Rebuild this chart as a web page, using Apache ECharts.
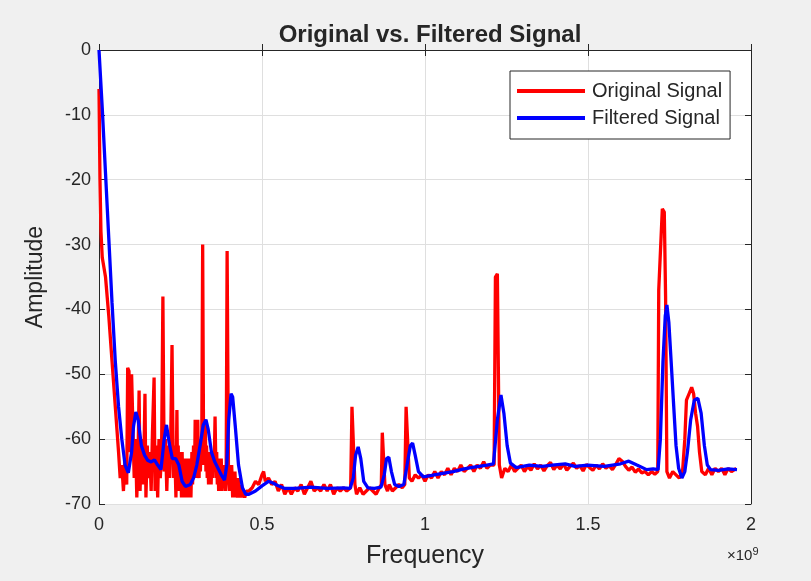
<!DOCTYPE html>
<html><head><meta charset="utf-8">
<script src="https://cdn.jsdelivr.net/npm/echarts@6/dist/echarts.min.js"></script>
<style>html,body{margin:0;padding:0;background:#f0f0f0;}#c{width:811px;height:581px;}</style>
</head><body><div id="c"></div>
<script>
// Frequency in units of 1e9 (axis shows ×10^9); each entry is [frequency, amplitude]
const xTicks = [0, 0.5, 1, 1.5, 2];
const yTicks = [0, -10, -20, -30, -40, -50, -60, -70];
const seriesNames = ['Original Signal', 'Filtered Signal'];

const originalSignal = [
  [0,-6],[0.003,-20],[0.006,-28],[0.01,-32],[0.02,-35],[0.03,-41],[0.04,-48],[0.05,-55],[0.06,-62],[0.065,-66],
  [0.07,-64],[0.075,-68],[0.08,-63],[0.085,-67],[0.088,-49],[0.092,-49.5],[0.096,-62],[0.1,-50],[0.104,-50],[0.108,-66],
  [0.112,-60],[0.116,-69],[0.12,-62],[0.123,-52.5],[0.126,-68],[0.13,-60],[0.134,-67],[0.138,-62],[0.141,-53],[0.144,-69],
  [0.148,-61],[0.152,-66],[0.156,-62],[0.16,-68],[0.164,-59],[0.169,-50.5],[0.172,-68],[0.176,-61],[0.18,-69],[0.184,-60],
  [0.188,-66],[0.192,-62],[0.196,-38],[0.2,-65],[0.204,-60],[0.208,-68],[0.212,-61],[0.216,-66],[0.22,-60],[0.224,-45.5],
  [0.228,-66],[0.232,-61],[0.236,-69],[0.239,-55.5],[0.241,-66],[0.243,-61],[0.245,-68],[0.247,-62],[0.249,-67],[0.251,-63],
  [0.253,-69],[0.255,-62],[0.257,-68],[0.26,-64],[0.262,-69],[0.265,-63],[0.267,-68],[0.27,-64],[0.272,-69],[0.275,-63],
  [0.277,-68],[0.28,-64],[0.282,-69],[0.285,-62],[0.287,-67],[0.29,-61],[0.293,-66],[0.295,-57],[0.297,-65],[0.299,-60],
  [0.301,-66],[0.303,-57],[0.305,-64],[0.307,-66],[0.309,-60],[0.311,-65],[0.313,-60],[0.315,-63],[0.318,-30],[0.321,-64],
  [0.323,-59],[0.326,-57],[0.328,-65],[0.33,-61],[0.332,-66],[0.334,-62],[0.336,-67],[0.338,-63],[0.34,-66],[0.342,-62],
  [0.344,-67],[0.346,-63],[0.348,-66],[0.35,-62],[0.353,-65],[0.356,-56.5],[0.359,-66],[0.361,-62],[0.363,-67],[0.365,-63],
  [0.367,-68],[0.37,-64],[0.372,-67],[0.375,-63],[0.377,-68],[0.38,-64],[0.382,-67],[0.385,-65],[0.388,-68],[0.39,-66],
  [0.393,-31],[0.397,-64],[0.4,-68],[0.402,-65],[0.405,-68],[0.407,-64],[0.41,-69],[0.412,-66],[0.415,-68],[0.417,-65],
  [0.42,-69],[0.422,-67],[0.425,-69],[0.427,-66],[0.43,-69],[0.432,-67],[0.435,-69],[0.437,-67],[0.44,-69],[0.442,-68],
  [0.447,-69],[0.452,-68],[0.46,-68],[0.47,-67.5],[0.48,-66.5],[0.49,-67],[0.5,-65.5],[0.505,-65],[0.51,-66.5],[0.52,-66],
  [0.53,-67],[0.54,-66.5],[0.55,-68],[0.56,-67],[0.57,-68.5],[0.58,-67.5],[0.59,-68.5],[0.6,-67.5],[0.61,-68],[0.62,-67],
  [0.63,-68.5],[0.64,-67.5],[0.65,-66.5],[0.66,-68],[0.67,-67.5],[0.68,-68],[0.69,-67],[0.7,-68],[0.71,-67],[0.72,-68.5],
  [0.73,-67.5],[0.74,-68],[0.75,-67.5],[0.76,-68],[0.772,-67.5],[0.776,-55],[0.781,-55],[0.785,-67],[0.79,-68.5],[0.8,-67.5],
  [0.81,-68.5],[0.82,-68],[0.83,-67.5],[0.84,-68],[0.85,-68.5],[0.86,-67.5],[0.866,-67],[0.869,-59],[0.874,-59],[0.877,-67],
  [0.885,-68],[0.89,-67],[0.9,-68],[0.91,-67.5],[0.92,-67],[0.93,-67.5],[0.938,-67],[0.942,-55],[0.948,-55],[0.952,-66],
  [0.96,-66.5],[0.97,-65.5],[0.98,-66],[0.99,-65.5],[1.0,-66.5],[1.01,-65.5],[1.02,-66],[1.03,-65],[1.04,-66],[1.05,-65],
  [1.06,-65.5],[1.07,-64.5],[1.08,-65.5],[1.09,-64.5],[1.1,-65],[1.11,-64],[1.12,-65],[1.13,-64.5],[1.14,-64],[1.15,-65],
  [1.16,-64],[1.17,-64.5],[1.18,-63.5],[1.19,-64.5],[1.2,-64],[1.212,-64],[1.216,-35],[1.222,-34.5],[1.228,-64],[1.235,-66],
  [1.245,-64.5],[1.255,-65],[1.265,-64],[1.275,-65],[1.285,-64.5],[1.295,-64],[1.305,-65],[1.315,-64.2],[1.325,-64.8],[1.335,-63.8],
  [1.345,-64.6],[1.355,-64],[1.365,-64.9],[1.375,-64.1],[1.385,-63.6],[1.395,-64.7],[1.405,-64],[1.415,-64.6],[1.425,-63.8],[1.435,-64.8],
  [1.445,-64.2],[1.455,-63.7],[1.465,-64.5],[1.475,-64.1],[1.485,-64.9],[1.495,-63.9],[1.505,-64.4],[1.515,-64.8],[1.525,-64],[1.535,-64.6],
  [1.545,-63.8],[1.555,-64.5],[1.565,-64.1],[1.575,-64.7],[1.585,-63.9],[1.595,-63],[1.605,-63.4],[1.615,-64.2],[1.625,-64.8],[1.635,-64.3],
  [1.645,-65.1],[1.655,-64.6],[1.665,-65.2],[1.675,-65],[1.685,-65.5],[1.695,-65],[1.705,-65.4],[1.714,-65],[1.717,-37],[1.722,-37],
  [1.728,-24.5],[1.734,-25],[1.738,-38],[1.742,-65],[1.75,-66],[1.76,-65],[1.77,-65.5],[1.78,-66],[1.79,-65],[1.797,-60],
  [1.802,-54],[1.81,-53],[1.818,-52],[1.824,-53],[1.83,-56],[1.836,-58],[1.842,-62],[1.849,-65],[1.86,-65.5],[1.87,-64.5],
  [1.88,-65.5],[1.89,-64.5],[1.9,-65],[1.91,-64.5],[1.92,-65.5],[1.93,-64.5],[1.94,-65],[1.955,-64.5]
];

const filteredSignal = [
  [0,0],[0.01,-9],[0.02,-19],[0.03,-29],[0.04,-39],[0.05,-48],[0.06,-55],[0.07,-60],[0.08,-64],[0.09,-65.2],
  [0.1,-62],[0.106,-58],[0.113,-55.8],[0.12,-57],[0.13,-61],[0.14,-62.5],[0.15,-63.3],[0.16,-63.5],[0.17,-63.2],[0.18,-64],
  [0.19,-64.7],[0.2,-60],[0.207,-57.8],[0.215,-60.5],[0.225,-63],[0.235,-63],[0.245,-64],[0.255,-66.5],[0.265,-67.3],[0.28,-67],
  [0.29,-66],[0.3,-64],[0.31,-61],[0.32,-57.8],[0.328,-57],[0.335,-58.5],[0.345,-62],[0.355,-63.5],[0.365,-64.5],[0.375,-65.5],
  [0.385,-66.3],[0.392,-64],[0.398,-57],[0.405,-53],[0.41,-53.5],[0.418,-58],[0.428,-64],[0.44,-67.5],[0.45,-68.5],[0.46,-68.5],
  [0.48,-68],[0.5,-67.2],[0.52,-66.5],[0.535,-66.8],[0.55,-67.2],[0.57,-67.6],[0.6,-67.6],[0.65,-67.4],[0.7,-67.6],[0.75,-67.5],
  [0.77,-67.6],[0.78,-66],[0.787,-62.5],[0.795,-61.2],[0.803,-63],[0.812,-66.5],[0.825,-67.5],[0.845,-67.6],[0.865,-67.4],[0.875,-65.5],
  [0.882,-63],[0.889,-62.8],[0.897,-65],[0.907,-67],[0.92,-67.3],[0.935,-67],[0.945,-64],[0.955,-61],[0.962,-60.6],[0.97,-62.5],
  [0.98,-65],[0.995,-65.8],[1.02,-65.6],[1.05,-65.3],[1.086,-65],[1.12,-64.6],[1.15,-64.3],[1.19,-64],[1.21,-63.8],[1.222,-57],
  [1.233,-53.2],[1.242,-56],[1.252,-61],[1.262,-63.7],[1.28,-64.4],[1.32,-64],[1.36,-64.2],[1.39,-64],[1.43,-63.8],[1.46,-64.2],
  [1.5,-64],[1.55,-64.2],[1.6,-63.8],[1.625,-63.4],[1.65,-64],[1.68,-64.7],[1.7,-64.6],[1.715,-64.7],[1.722,-60],[1.73,-48],
  [1.737,-41],[1.742,-39.3],[1.748,-42],[1.755,-48],[1.763,-55],[1.77,-61],[1.778,-64.5],[1.788,-66],[1.797,-65],[1.805,-62],
  [1.815,-57],[1.826,-54],[1.837,-53.7],[1.847,-56],[1.857,-61],[1.866,-64],[1.876,-64.7],[1.9,-64.8],[1.93,-64.6],[1.957,-64.7]
];

const axisColor = '#262626';
const font = 'Liberation Sans, Arial, sans-serif';
const chart = echarts.init(document.getElementById('c'), null, {renderer: 'canvas'});
const common = {min: xTicks[0], max: xTicks[xTicks.length - 1], interval: xTicks[1] - xTicks[0]};
const yCommon = {min: yTicks[yTicks.length - 1], max: yTicks[0], interval: yTicks[0] - yTicks[1]};
chart.setOption({
  backgroundColor: '#f0f0f0',
  animation: false,
  title: {text: 'Original vs. Filtered Signal', left: 425, top: 18, textAlign: 'center',
    textStyle: {fontFamily: font, fontSize: 24, fontWeight: 'bold', color: axisColor}},
  grid: {left: 99, top: 50, width: 652, height: 454, show: true, backgroundColor: '#ffffff', borderWidth: 0},
  legend: {orient: 'vertical', left: 510, top: 71, data: seriesNames, icon: 'rect', itemWidth: 68, itemHeight: 4,
    itemGap: 7, padding: [10, 8, 11, 7], backgroundColor: '#ffffff', borderColor: axisColor, borderWidth: 1,
    borderRadius: 0, textStyle: {fontFamily: font, fontSize: 20, color: axisColor, padding: [0, 0, 0, 2]}},
  xAxis: [
    Object.assign({type: 'value', position: 'bottom', name: 'Frequency', nameLocation: 'middle', nameGap: 40,
      nameTextStyle: {fontFamily: font, fontSize: 25, color: axisColor},
      axisLine: {show: true, lineStyle: {color: axisColor, width: 1}},
      axisTick: {show: true, inside: true, length: 6, lineStyle: {color: axisColor}},
      axisLabel: {fontFamily: font, fontSize: 18, color: axisColor, margin: 12, formatter: v => String(v)},
      splitLine: {show: true, lineStyle: {color: '#dfdfdf', width: 1}}}, common),
    Object.assign({type: 'value', position: 'top',
      axisLine: {show: true, onZero: false, lineStyle: {color: axisColor, width: 1}},
      axisTick: {show: true, inside: true, length: 6, lineStyle: {color: axisColor}},
      axisLabel: {show: false}, splitLine: {show: false}}, common)
  ],
  yAxis: [
    Object.assign({type: 'value', position: 'left', name: 'Amplitude', nameLocation: 'middle', nameGap: 52,
      nameTextStyle: {fontFamily: font, fontSize: 23, color: axisColor},
      axisLine: {show: true, onZero: false, lineStyle: {color: axisColor, width: 1}},
      axisTick: {show: true, inside: true, length: 6, lineStyle: {color: axisColor}},
      axisLabel: {fontFamily: font, fontSize: 18, color: axisColor, margin: 8, formatter: v => String(v)},
      splitLine: {show: true, lineStyle: {color: '#dfdfdf', width: 1}}}, yCommon),
    Object.assign({type: 'value', position: 'right',
      axisLine: {show: true, onZero: false, lineStyle: {color: axisColor, width: 1}},
      axisTick: {show: true, inside: true, length: 6, lineStyle: {color: axisColor}},
      axisLabel: {show: false}, splitLine: {show: false}}, yCommon)
  ],
  graphic: [{type: 'text', left: 727, top: 546, style: {
    text: '×10{s|9}', fontFamily: font, fontSize: 15, fill: axisColor,
    rich: {s: {fontFamily: font, fontSize: 11, fill: axisColor, verticalAlign: 'top', padding: [0, 0, 9, 0]}}}}],
  series: [
    {name: seriesNames[0], type: 'line', xAxisIndex: 0, yAxisIndex: 0, showSymbol: false, symbol: 'none',
      color: '#ff0000', lineStyle: {color: '#ff0000', width: 3.3}, data: originalSignal},
    {name: seriesNames[1], type: 'line', xAxisIndex: 0, yAxisIndex: 0, showSymbol: false, symbol: 'none',
      color: '#0000ff', lineStyle: {color: '#0000ff', width: 3.3}, data: filteredSignal}
  ]
});
</script></body></html>
